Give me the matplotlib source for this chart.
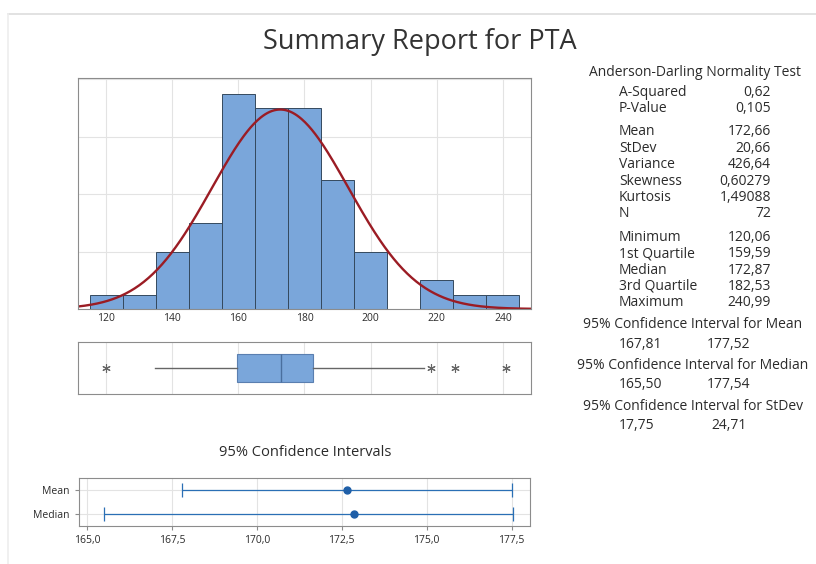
import numpy as np
import matplotlib.pyplot as plt

plt.rcParams['font.family'] = ['Open Sans', 'DejaVu Sans']

# histogram data (bin edges and counts)
bin_edges = [115, 125, 135, 145, 155, 165, 175, 185, 195, 205, 215, 225, 235, 245]
counts = [1, 1, 4, 6, 15, 14, 14, 9, 4, 0, 2, 1, 1]

# summary statistics
n = 72
mean = 172.66
stdev = 20.66
q1, median, q3 = 159.59, 172.87, 182.53
whisker_lo, whisker_hi = 134.8, 216.0
outliers = [120.06, 218.2, 225.4, 240.99]

ci_labels = ['Median', 'Mean']
ci_center = [172.87, 172.66]
ci_low = [165.50, 167.81]
ci_high = [177.54, 177.52]

stats_rows = [
    [('A-Squared', '0,62'), ('P-Value', '0,105')],
    [('Mean', '172,66'), ('StDev', '20,66'), ('Variance', '426,64'),
     ('Skewness', '0,60279'), ('Kurtosis', '1,49088'), ('N', '72')],
    [('Minimum', '120,06'), ('1st Quartile', '159,59'), ('Median', '172,87'),
     ('3rd Quartile', '182,53'), ('Maximum', '240,99')],
]
ci_text = [
    ('95% Confidence Interval for Mean', '167,81', '177,52'),
    ('95% Confidence Interval for Median', '165,50', '177,54'),
    ('95% Confidence Interval for StDev', '17,75', '24,71'),
]

W, H = 816, 564
fig = plt.figure(figsize=(W / 100, H / 100), dpi=100)

def px_axes(left, top, right, bottom):
    return fig.add_axes([left / W, 1 - bottom / H, (right - left) / W, (bottom - top) / H])

blue = '#7aa6da'
edge = '#34495e'
grid_c = '#e3e3e3'
spine_c = '#8c8c8c'
text_c = '#2b2b2b'

def style(ax):
    for s in ax.spines.values():
        s.set_color(spine_c)
        s.set_linewidth(0.8)
    ax.tick_params(colors=text_c, labelsize=8.5, length=0)
    ax.grid(True, color=grid_c, linewidth=0.8)
    ax.set_axisbelow(True)

# frame around the report
fig.add_artist(plt.Line2D([8 / W, 1], [1 - 14 / H, 1 - 14 / H], color='#dddddd', lw=1.2))
fig.add_artist(plt.Line2D([8 / W, 8 / W], [0, 1 - 14 / H], color='#eeeeee', lw=1.2))

fig.text(420 / W, 1 - 42 / H, 'Summary Report for PTA', ha='center', va='center',
         fontsize=19.5, color='#333333')

# histogram
xlim = (111.5, 248.5)
ax1 = px_axes(78, 78, 531, 309)
style(ax1)
ax1.hist(bin_edges[:-1], bins=bin_edges, weights=counts, color=blue, edgecolor=edge, linewidth=0.7)
x = np.linspace(xlim[0], xlim[1], 400)
pdf = n * 10 * np.exp(-0.5 * ((x - mean) / stdev) ** 2) / (stdev * np.sqrt(2 * np.pi))
ax1.plot(x, pdf, color='#9b1c24', lw=1.7)
ax1.set_xlim(xlim)
ax1.set_ylim(0, 16.1)
ax1.set_yticks([4, 8, 12, 16])
ax1.set_yticklabels([])
ax1.set_xticks([120, 140, 160, 180, 200, 220, 240])
ax1.tick_params(axis='x', labelsize=7.5, pad=3)

# boxplot
ax2 = px_axes(78, 342, 531, 394)
style(ax2)
box = [{'med': median, 'q1': q1, 'q3': q3, 'whislo': whisker_lo, 'whishi': whisker_hi,
        'fliers': outliers}]
ax2.bxp(box, vert=False, widths=0.55, patch_artist=True, showcaps=False,
        boxprops=dict(facecolor=blue, edgecolor='#5a7fb0', linewidth=0.8),
        medianprops=dict(color='#4a6f9e', linewidth=1),
        whiskerprops=dict(color='#666666', linewidth=1),
        flierprops=dict(marker=(6, 2, 0), markersize=6, markeredgecolor='#666666', markeredgewidth=0.8))
ax2.set_xlim(xlim)
ax2.set_ylim(0.5, 1.5)
ax2.set_xticks([120, 140, 160, 180, 200, 220, 240])
ax2.set_xticklabels([])
ax2.set_yticks([])

# confidence intervals
fig.text(305 / W, 1 - 452 / H, '95% Confidence Intervals', ha='center', va='center',
         fontsize=10.5, color=text_c)
ax3 = px_axes(79, 478, 530, 526)
style(ax3)
ypos = np.arange(1, len(ci_labels) + 1)
ax3.errorbar(ci_center, ypos,
             xerr=[np.array(ci_center) - np.array(ci_low), np.array(ci_high) - np.array(ci_center)],
             fmt='o', color='#1f5fa8', ecolor='#2a6fb5', elinewidth=0.9, capsize=5,
             capthick=0.9, markersize=5)
ax3.set_xlim(164.77, 178.04)
ax3.set_ylim(0.5, 2.5)
ax3.set_yticks(ypos)
ax3.set_yticklabels(ci_labels)
ax3.set_xticks([165.0, 167.5, 170.0, 172.5, 175.0, 177.5])
ax3.set_xticklabels(['165,0', '167,5', '170,0', '172,5', '175,0', '177,5'])
ax3.tick_params(length=3, color=spine_c, labelsize=7.5)

# statistics panel
fs = 10
y = 72
fig.text(695 / W, 1 - y / H, 'Anderson-Darling Normality Test', ha='center', va='center',
         fontsize=fs, color=text_c)
y = 92
for group in stats_rows:
    for label, val in group:
        fig.text(619 / W, 1 - y / H, label, ha='left', va='center', fontsize=fs, color=text_c)
        fig.text(771 / W, 1 - y / H, val, ha='right', va='center', fontsize=fs, color=text_c)
        y += 16.4
    y += 7
y = 325
for title, lo, hi in ci_text:
    fig.text(693 / W, 1 - y / H, title, ha='center', va='center', fontsize=fs, color=text_c)
    fig.text(619 / W, 1 - (y + 19.5) / H, lo, ha='left', va='center', fontsize=fs, color=text_c)
    fig.text(729 / W, 1 - (y + 19.5) / H, hi, ha='center', va='center', fontsize=fs, color=text_c)
    y += 40.5

fig.savefig('out.png', dpi=100)
